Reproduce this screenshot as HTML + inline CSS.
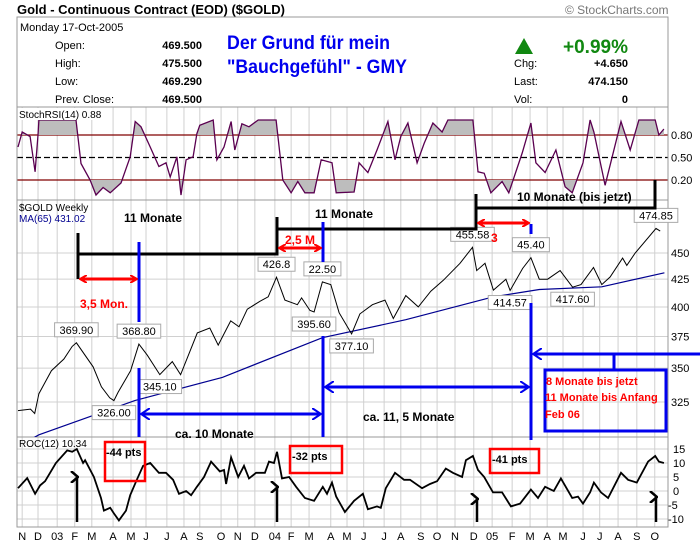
<!DOCTYPE html>
<html><head><meta charset="utf-8"><style>
body{margin:0;background:#fff}
svg text{font-family:"Liberation Sans",Arial,sans-serif}
</style></head><body>
<svg id="c" width="700" height="546" viewBox="0 0 700 546" xmlns="http://www.w3.org/2000/svg">
<defs>
<clipPath id="above80"><rect x="17" y="107" width="651" height="28"/></clipPath>
<clipPath id="below20"><rect x="17" y="180" width="651" height="22"/></clipPath>
<clipPath id="pricePanel"><rect x="17" y="200" width="651" height="237"/></clipPath>
<clipPath id="stochPanel"><rect x="17" y="107" width="651" height="93"/></clipPath>
<marker id="ra" markerWidth="8" markerHeight="8" refX="6" refY="4" orient="auto-start-reverse" markerUnits="userSpaceOnUse"><path d="M0,0 L7,4 L0,8" fill="none" stroke="red" stroke-width="2"/></marker>
<marker id="ba" markerWidth="10" markerHeight="12" refX="8" refY="6" orient="auto-start-reverse" markerUnits="userSpaceOnUse"><path d="M0,0 L9,6 L0,12" fill="none" stroke="#0000ee" stroke-width="2"/></marker>
<marker id="ka" markerWidth="12" markerHeight="12" refX="6" refY="2" orient="auto" markerUnits="userSpaceOnUse"><path d="M0,8 L6,1 L12,8" fill="none" stroke="#000" stroke-width="2.5"/></marker>
</defs>
<g id="grid"></g>
<g id="frames"></g>
<g id="series"></g>
<g id="notes"></g>
<g id="texts"></g>
</svg>
<script>
const monthLabels=["N","D","03","F","M","A","M","J","J","A","S","O","N","D","04","F","M","A","M","J","J","A","S","O","N","D","05","F","M","A","M","J","J","A","S","O"];
const monthWeeks=[1,4.8,9.4,13.6,17.7,22.8,27.1,30.7,35.7,39.8,43.6,48.7,52.7,56.8,61.6,65.5,69.8,75,78.9,82.9,87.8,91.8,96.6,100.5,104.8,109.3,113.7,118.5,122.8,126.9,130.7,135.5,139.5,143.9,148.4,152.7];
const priceTicks=[450,425,400,375,350,325];
const stochTicks=[0.8,0.5,0.2];
const rocTicks=[15,10,5,0,-5,-10];
const priceWeeks=[0,3,4,5,8,11,13,14,18,20,22,23,24,27,29,31,34,37,39,43,46,48,51,53,55,58,60,62,64,67,68,70,71,73,75,77,80,82,85,88,90,93,96,99,102,106,109,110,112,114,117,118,121,123,125,127,130,133,135,138,140,142,145,146,148,153,154];
const priceVals=[319,320,317,331,348,357,367,369.9,351,336,328,326,332,348,368.8,360,345.1,355,345,378,382,368,388,383,398,405,409,426.8,406,402,408,397,395.6,422.5,420,395,377.1,394,402,406,390,410,400,414,424,440,455.6,433,440,415,425,414.6,435,445.4,425,425,433,417.6,420,436,420,427,445,438,450,474.85,472];
const maWeeks=[2,5,28,49,73,93,114,125,140,155];
const maVals=[298,302.6,326,343,374,389,409,415.5,418,431];
const stochWeeks=[0,1,2.9,4.1,4.8,5,13.9,15.1,17.3,18.7,20.4,22.1,24.7,26.9,28.1,29.5,31.7,33.8,35.5,36.5,38.1,39.1,40.3,42,42.9,43.6,46.8,47.7,49.4,51.1,52,53.7,55.4,57.6,61.9,63.5,65.5,67.1,68.8,71,72.7,75.3,76.3,80.6,81.8,83.9,86.1,88.7,90.4,91.8,93.5,95.7,97.4,99.5,101.7,103.1,109.1,110.3,111.8,113.4,116.1,117.7,120.9,123,124.2,126.4,129,131.2,132.9,135.5,137.2,138.1,140.8,144.6,146.8,148.9,152.8,153.7,154.9];
const stochVals=[0.64,0.84,0.78,0.31,0.8,1,1,0.42,0.2,0,0.1,0.03,0.16,0.51,0.98,0.91,0.64,0.38,0.43,0.24,0.51,0,0.47,0.51,0.82,0.93,1,0.47,0.64,0.98,0.6,0.95,0.91,1,1,0.2,0.03,0.18,0.03,0.03,0.47,0.43,0.03,0.04,0.43,0.3,0.6,0.98,0.47,0.78,0.96,0.43,0.69,0.96,0.84,1,1,0.31,0.29,0.03,0.18,0.03,0.56,0.96,0.43,0.3,0.6,0.11,0.03,0.43,1,0.84,0.13,0.98,0.6,1,1,0.8,0.88];
const rocWeeks=[0,2.2,4.1,5.3,6.5,9.1,11.8,13,14.1,15.6,16.1,18.2,19.9,20.6,22.1,23,24.2,25.9,26.9,28.5,30,31.7,33.8,35.5,37.2,38.6,40.3,41.5,42.9,44.6,46.3,48.4,49.4,49.9,51.1,52.8,54.2,55.4,57.1,59.2,60.2,61.4,62.1,63.3,65,66.7,68.8,71,73.1,74.1,75.3,76.3,78.4,80.6,82.7,83.9,86.1,87,88.2,90.4,92.6,94,96.9,98.8,100.5,102.6,104.3,106.5,107.4,109.1,110.3,111.8,113.9,116.1,118.2,120.4,123,124.7,126.4,128.5,130.2,132.9,134.3,135.5,137.2,138.1,139.8,141.5,144.6,146.3,148.4,151.1,152.8,153.7,154.9];
const rocVals=[1,4.6,-1,2,3.5,10,14.5,14,15,10,11,5,-2.5,-7,-6,-8,-10.5,-7,-1.5,4,9,10,6.5,6.5,4,-1,0,-1.5,1.5,5,10.5,7,7.5,2.5,12,5,9,4.5,6.5,6.5,10.5,10,14,4.5,5,1.5,-2.5,-3.5,1.5,-1,3,-2,-7.5,-3.5,-1,-6.5,-5.5,-6,1,6.5,4,4,1,2.5,3.5,8,6.5,5,11,12.5,7.5,5,-0.5,-0.5,-5.5,-4.5,0.5,-2.5,1.5,0,4.5,-2.5,-2,-4.5,-0.5,3,-0.5,-2.5,6.5,4,3,10.5,12.5,10.5,10];
const priceLabels=[["369.90",14],["368.80",29],["345.10",34],["326.00",23],["426.8",62],["22.50",73],["395.60",71],["377.10",80],["455.58",109],["45.40",123],["414.57",118],["417.60",133],["474.85",153]];

const NS="http://www.w3.org/2000/svg";
const X0=17,X1=668;
const xs=w=>18+w*4.17;
const py=p=>253+458*(Math.log(450)-Math.log(p));
const sy=v=>195-75*v;
const ry=v=>491-2.8*v;
function el(tag,attrs,parent,txt){const e=document.createElementNS(NS,tag);for(const k in attrs)e.setAttribute(k,attrs[k]);if(txt!==undefined)e.textContent=txt;document.getElementById(parent).appendChild(e);return e;}
const pts=(ws,vs,f)=>ws.map((w,i)=>xs(w).toFixed(1)+","+f(vs[i]).toFixed(1)).join(" ");

// grid
monthWeeks.forEach((w,i)=>{
  const g=el('line',{x1:xs(w),x2:xs(w),y1:107,y2:527,stroke:'#d0d0d0','stroke-width':1},'grid');
  
  
  const t=el('text',{x:xs(w),y:540,'font-size':11,'text-anchor':'middle',fill:'#000'},'grid',monthLabels[i]);
  
  
});
priceTicks.forEach(v=>{
  const l=el('line',{x1:X0,x2:X1,y1:py(v),y2:py(v),stroke:'#d0d0d0'},'grid');
  
  
  const t=el('text',{x:671,y:py(v)+4,'font-size':11},'grid',v);
  
  
});
rocTicks.forEach(v=>{
  const l=el('line',{x1:X0,x2:X1,y1:ry(v),y2:ry(v),stroke:'#d0d0d0'},'grid');
  
  
  const t=el('text',{x:v<0?668:673,y:ry(v)+4,'font-size':11},'grid',v);
  
  
});
stochTicks.forEach(v=>{
  const l=el('line',{x1:X0,x2:X1,y1:sy(v),y2:sy(v),stroke:v==0.5?'#000':'#800000','stroke-width':1.2,'stroke-dasharray':v==0.5?'6,3':'none'},'grid');
  
  
  const t=el('text',{x:671,y:sy(v)+4,'font-size':11},'grid',v.toFixed(2));
  
  
});

// frames
[[17,17,107],[17,107,200],[17,200,437],[17,437,527]].forEach(r=>{
  const f=el('rect',{x:X0,y:r[1],width:X1-X0,height:r[2]-r[1],fill:'none',stroke:'#999'},'frames');
  
  
});

// stoch
const sp=pts(stochWeeks,stochVals,sy);
const sw0=xs(stochWeeks[0]),sw1=xs(stochWeeks[stochWeeks.length-1]);
const fa=el('polygon',{points:sw0+","+sy(0.8)+" "+sp+" "+sw1+","+sy(0.8),fill:'#bdbdbd','clip-path':'url(#above80)'},'series');


const fb=el('polygon',{points:sw0+","+sy(0.2)+" "+sp+" "+sw1+","+sy(0.2),fill:'#bdbdbd','clip-path':'url(#below20)'},'series');


const sl=el('polyline',{points:sp,fill:'none',stroke:'#5a0050','stroke-width':1.3,'clip-path':'url(#stochPanel)'},'series');



// price
const ma=el('polyline',{points:pts(maWeeks,maVals,py),fill:'none',stroke:'#000090','stroke-width':1.2,'clip-path':'url(#pricePanel)'},'series');


const pl=el('polyline',{points:pts(priceWeeks,priceVals,py),fill:'none',stroke:'#000','stroke-width':1,'clip-path':'url(#pricePanel)'},'series');


priceLabels.forEach(([s,w])=>{
  const i=priceWeeks.indexOf(w);const v=priceVals[i];
  const low=["326.00","345.10","377.10","395.60","414.57","417.60"].includes(s);
  const cy=low?py(v)+12:py(v)-13;
  const r=el('rect',{x:xs(w)-s.length*3.3-2,y:cy-7,width:s.length*6.6+4,height:14,fill:'#fff',stroke:'#aaa'},'series');
  
  
  const t=el('text',{x:xs(w),y:cy+4,'font-size':11,'text-anchor':'middle'},'series',s);
  
  
});

// roc
const rl=el('polyline',{points:pts(rocWeeks,rocVals,ry),fill:'none',stroke:'#000','stroke-width':1.8},'series');


</script>
<script>
// static annotations and header texts
(function(){
const N=document.getElementById('notes');
N.innerHTML=`
<g fill="none" stroke="#000" stroke-width="3">
<path d="M78,233 V279 M78,254 H277 V217 M277,229 H476 V194 M476,208 H655 V180"/>
</g>
<g stroke="#0000ee" stroke-width="3" fill="none">
<line x1="139" y1="242" x2="139" y2="322"/><line x1="139" y1="368" x2="139" y2="437"/>
<line x1="323" y1="222" x2="323" y2="262"/><line x1="323" y1="336" x2="323" y2="437"/>
<line x1="531" y1="224" x2="531" y2="234"/><line x1="531" y1="303" x2="531" y2="440"/>
<line x1="142" y1="414" x2="320" y2="414" marker-start="url(#ba)" marker-end="url(#ba)"/>
<line x1="326" y1="387" x2="528" y2="387" marker-start="url(#ba)" marker-end="url(#ba)"/>
<line x1="534" y1="354" x2="700" y2="354" marker-start="url(#ba)"/>
<line x1="614" y1="354" x2="614" y2="369"/>
<rect x="545" y="370" width="121" height="61"/>
</g>
<g stroke="red" stroke-width="3" fill="none">
<line x1="81" y1="279" x2="136" y2="279" marker-start="url(#ra)" marker-end="url(#ra)"/>
<line x1="280" y1="248" x2="320" y2="248" marker-start="url(#ra)" marker-end="url(#ra)"/>
<line x1="479" y1="223" x2="528" y2="223" marker-start="url(#ra)" marker-end="url(#ra)"/>
<rect x="105" y="442" width="40" height="39" stroke-width="2.5"/>
<rect x="290" y="446" width="52" height="27" stroke-width="2.5"/>
<rect x="490" y="449" width="49" height="24" stroke-width="2.5"/>
</g>
<g stroke="#000" stroke-width="2.5">
<line x1="77" y1="477" x2="77" y2="522" marker-start="url(#ka)"/>
<line x1="277" y1="487" x2="277" y2="522" marker-start="url(#ka)"/>
<line x1="477" y1="499" x2="477" y2="522" marker-start="url(#ka)"/>
<line x1="656" y1="497" x2="656" y2="522" marker-start="url(#ka)"/>
</g>
<g font-weight="bold" font-size="12">
<text x="124" y="222">11 Monate</text>
<text x="315" y="218">11 Monate</text>
<text x="517" y="201">10 Monate (bis jetzt)</text>
<text x="80" y="308" fill="red">3,5 Mon.</text>
<text x="285" y="244" fill="red">2,5 M</text>
<text x="491" y="242" fill="red">3</text>
<text x="175" y="438">ca. 10 Monate</text>
<text x="363" y="421">ca. 11, 5 Monate</text>
<text x="546" y="385" fill="red" font-size="11">8 Monate bis jetzt</text>
<text x="545" y="401" fill="red" font-size="11">11 Monate bis Anfang</text>
<text x="545" y="418" fill="red" font-size="11">Feb 06</text>
<text x="106" y="456" font-size="11">-44 pts</text>
<text x="292" y="460" font-size="11">-32 pts</text>
<text x="492" y="463" font-size="11">-41 pts</text>
</g>`;
const T=document.getElementById('texts');
T.innerHTML=`
<text x="17" y="14" font-size="13" font-weight="bold">Gold - Continuous Contract (EOD) ($GOLD)</text>
<text x="565" y="14" font-size="12" fill="#777">© StockCharts.com</text>
<text x="20" y="31" font-size="11">Monday 17-Oct-2005</text>
<g font-size="11">
<text x="55" y="49">Open:</text><text x="55" y="67">High:</text><text x="55" y="85">Low:</text><text x="55" y="103">Prev. Close:</text>
</g>
<g font-size="11" font-weight="bold" text-anchor="end">
<text x="202" y="49">469.500</text><text x="202" y="67">475.500</text><text x="202" y="85">469.290</text><text x="202" y="103">469.500</text>
</g>
<g font-size="19" font-weight="bold" fill="#0000ee">
<text x="227" y="49" textLength="163" lengthAdjust="spacingAndGlyphs">Der Grund für mein</text>
<text x="227" y="73" textLength="180" lengthAdjust="spacingAndGlyphs">"Bauchgefühl" - GMY</text>
</g>
<polygon points="515,54 524,38 533,54" fill="#118811"/>
<text x="628" y="53" font-size="19" font-weight="bold" fill="#118811" text-anchor="end">+0.99%</text>
<g font-size="11">
<text x="514" y="67">Chg:</text><text x="514" y="85">Last:</text><text x="514" y="103">Vol:</text>
</g>
<g font-size="11" font-weight="bold" text-anchor="end">
<text x="628" y="67">+4.650</text><text x="628" y="85">474.150</text><text x="628" y="103">0</text>
</g>
<rect x="18" y="108" width="92" height="12" fill="#fff"/>
<text x="19" y="118" font-size="10">StochRSI(14) 0.88</text>
<text x="19" y="211" font-size="10">$GOLD Weekly</text>
<text x="19" y="222" font-size="10" fill="#000090">MA(65) 431.02</text>
<text x="19" y="447" font-size="10">ROC(12) 10.34</text>`;
})();
</script>
</body></html>
